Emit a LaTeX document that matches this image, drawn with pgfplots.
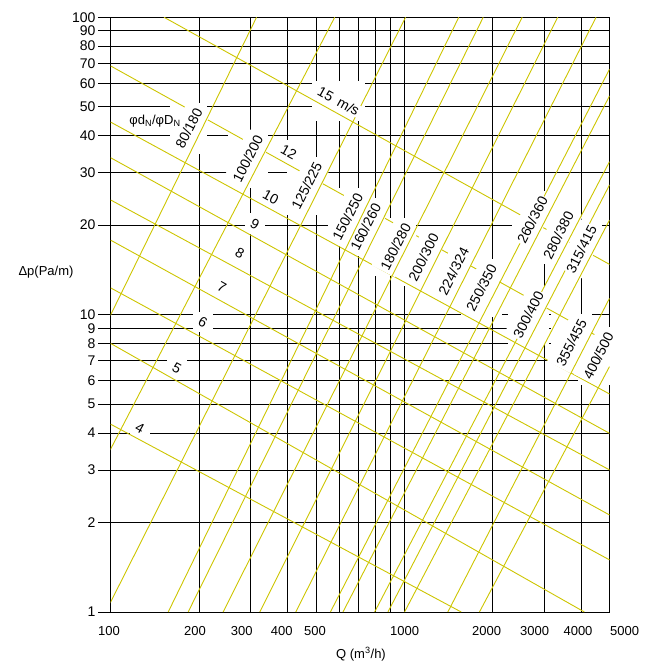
\documentclass[border=0pt]{standalone}
\usepackage{pgfplots}
\pgfplotsset{compat=1.18}
\usetikzlibrary{fit}
\usepackage{fontspec}
\setmainfont{Liberation Sans}
\definecolor{ylw}{RGB}{205,197,0}
\tikzset{
  dl/.style={fill=white, inner sep=1pt, rotate=63, font=\fontsize{14}{16}\selectfont},
  vl/.style={fill=white, inner sep=1pt, rotate=-29, font=\fontsize{14}{16}\selectfont},
}
\newcommand\er[1]{\node[fill=white, draw=none, inner sep=2.5pt, fit=(#1.north west)(#1.north east)(#1.south west)(#1.south east)] {};}
\newcommand\re[2]{\node[dl, inner xsep=2pt, inner ysep=8pt] at (#1) {\phantom{#2}};}
\begin{document}
\begin{tikzpicture}[font=\fontsize{13}{15}\selectfont]
\useasboundingbox (-110.7pt,-54pt) rectangle (540.3pt,612pt);
\begin{axis}[
  at={(0pt,0pt)}, anchor=south west,
  scale only axis, width=498.8pt, height=594.7pt,
  xmode=log, ymode=log,
  xmin=100, xmax=5000, ymin=1, ymax=100,
  clip mode=individual,
  no markers,
  yl/.style={ylw, solid, line width=0.9pt},
  axis line style={black, line width=0.8pt},
  xtick={100,200,300,400,500,600,700,800,900,1000,2000,3000,4000,5000},
  xticklabels={},
  ytick={1,2,3,4,5,6,7,8,9,10,20,30,40,50,60,70,80,90,100},
  yticklabels={1,2,3,4,5,6,7,8,9,10,20,30,40,50,60,70,80,90,100},
  xminorticks=false, yminorticks=false,
  xmajorgrids, ymajorgrids,
  grid style={black, line width=0.8pt},
  xtick style={draw=none},
  ytick style={black, line width=0.8pt},
  tick align=outside, major tick length=12.5pt,
  ytick pos=left, xtick pos=bottom,
  yticklabel style={inner xsep=2.5pt, font=\fontsize{14}{16}\selectfont},
]
% phantom label boxes (to erase the grid around the labels)
\node[dl, fill=none] (d1) at (axis cs:184.6,42.4) {\phantom{80/180}};
\node[dl, fill=none] (d2) at (axis cs:293.1,33.4) {\phantom{100/200}};
\node[dl, fill=none] (d3) at (axis cs:465.3,27.1) {\phantom{125/225}};
\node[dl, fill=none] (d4) at (axis cs:641.6,21.3) {\phantom{150/250}};
\node[dl, fill=none] (d5) at (axis cs:738.5,19.7) {\phantom{160/260}};
\node[dl, fill=none] (d6) at (axis cs:934.1,16.9) {\phantom{180/280}};
\node[dl, fill=none] (d7) at (axis cs:1163,15.6) {\phantom{200/300}};
\node[dl, fill=none] (d8) at (axis cs:1472,14.0) {\phantom{224/324}};
\node[dl, fill=none] (d9) at (axis cs:1832,12.3) {\phantom{250/350}};
\node[dl, fill=none] (d10) at (axis cs:2731,20.8) {\phantom{260/360}};
\node[dl, fill=none] (d11) at (axis cs:3348,18.5) {\phantom{280/380}};
\node[dl, fill=none] (d12) at (axis cs:4009,16.6) {\phantom{315/415}};
\node[dl, fill=none] (d13) at (axis cs:2647,9.98) {\phantom{300/400}};
\node[dl, fill=none] (d14) at (axis cs:3707,8.03) {\phantom{355/455}};
\node[dl, fill=none] (d15) at (axis cs:4580,7.26) {\phantom{400/500}};
\node[vl, fill=none] (v1) at (axis cs:125.8,4.16) {\phantom{4}};
\node[vl, fill=none] (v2) at (axis cs:168.1,6.62) {\phantom{5}};
\node[vl, fill=none] (v3) at (axis cs:206.1,9.45) {\phantom{6}};
\node[vl, fill=none] (v4) at (axis cs:239.0,12.39) {\phantom{7}};
\node[vl, fill=none] (v5) at (axis cs:275.4,16.1) {\phantom{8}};
\node[vl, fill=none] (v6) at (axis cs:309.6,20.2) {\phantom{9}};
\node[vl, fill=none] (v7) at (axis cs:351.0,24.9) {\phantom{10}};
\node[vl, fill=none] (v8) at (axis cs:404.1,35.3) {\phantom{12}};
\node[vl, fill=none] (v9) at (axis cs:597.6,52.3) {\phantom{15\enspace m/s}};
\er{d1}\er{d2}\er{d3}\er{d4}\er{d5}\er{d6}\er{d7}\er{d8}
\er{d9}\er{d10}\er{d11}\er{d12}\er{d13}\er{d14}\er{d15}
\er{v1}\er{v2}\er{v3}\er{v4}\er{v5}\er{v6}\er{v7}\er{v8}\er{v9}
% velocity lines
\addplot[yl] coordinates {(100,4.28) (1563,1)};
\addplot[yl] coordinates {(100,8.0) (4105,1)};
\addplot[yl] coordinates {(100,12.3) (5000,1.497)};
\addplot[yl] coordinates {(100,17.8) (5000,2.12)};
\addplot[yl] coordinates {(100,24.3) (5000,3.005)};
\addplot[yl] coordinates {(100,33.7) (5000,3.99)};
\addplot[yl] coordinates {(100,44.4) (5000,5.41)};
\addplot[yl] coordinates {(100,68.6) (5000,8.03)};
\addplot[yl] coordinates {(152,100) (5000,14.76)};
% wider masks along the diameter labels
\re{d1}{80/180}\re{d2}{100/200}\re{d3}{125/225}\re{d4}{150/250}\re{d5}{160/260}
\re{d6}{180/280}\re{d7}{200/300}\re{d8}{224/324}\re{d9}{250/350}\re{d10}{260/360}
\re{d11}{280/380}\re{d12}{315/415}\re{d13}{300/400}\re{d14}{355/455}\re{d15}{400/500}
% diameter lines
\addplot[yl] coordinates {(31.9,1) (313.9,100)};
\addplot[yl] coordinates {(51.5,1) (579.4,100)};
\addplot[yl] coordinates {(96.1,1) (1010,100)};
\addplot[yl] coordinates {(157.0,1) (1533,100)};
\addplot[yl] coordinates {(183.6,1) (1857,100)};
\addplot[yl] coordinates {(241.5,1) (2520,100)};
\addplot[yl] coordinates {(322,1) (3330,100)};
\addplot[yl] coordinates {(426.9,1) (4498,100)};
\addplot[yl] coordinates {(560.2,1) (5000,66.9)};
\addplot[yl] coordinates {(618.2,1) (5000,54.4)};
\addplot[yl] coordinates {(792.5,1) (5000,32.7)};
\addplot[yl] coordinates {(879.6,1) (5000,27.3)};
\addplot[yl] coordinates {(1002,1) (5000,20.8)};
\addplot[yl] coordinates {(1407,1) (5000,11.35)};
\addplot[yl] coordinates {(1803,1) (5000,6.69)};
% labels
\node[dl] at (d1) {80/180};
\node[dl] at (d2) {100/200};
\node[dl] at (d3) {125/225};
\node[dl] at (d4) {150/250};
\node[dl] at (d5) {160/260};
\node[dl] at (d6) {180/280};
\node[dl] at (d7) {200/300};
\node[dl] at (d8) {224/324};
\node[dl] at (d9) {250/350};
\node[dl] at (d10) {260/360};
\node[dl] at (d11) {280/380};
\node[dl] at (d12) {315/415};
\node[dl] at (d13) {300/400};
\node[dl] at (d14) {355/455};
\node[dl] at (d15) {400/500};
\node[vl] at (v1) {4};
\node[vl] at (v2) {5};
\node[vl] at (v3) {6};
\node[vl] at (v4) {7};
\node[vl] at (v5) {8};
\node[vl] at (v6) {9};
\node[vl] at (v7) {10};
\node[vl] at (v8) {12};
\node[vl] at (v9) {15\enspace m/s};
\node[fill=white, inner sep=1pt] at (axis cs:141.5,44.8) {φd\textsubscript{N}/φD\textsubscript{N}};
\end{axis}
% x tick labels
\foreach \px/\lab in {-1.7/100, 84.3/200, 131/300, 171/400, 204.3/500, 294/1000, 376/2000, 424/3000, 467.3/4000, 514/5000}
  \node at (\px pt,-19pt) {\lab};
\node at (-64.7pt,340pt) {Δp(Pa/m)};
\node at (250.3pt,-42pt) {Q (m\textsuperscript{3}/h)};
\end{tikzpicture}
\end{document}
